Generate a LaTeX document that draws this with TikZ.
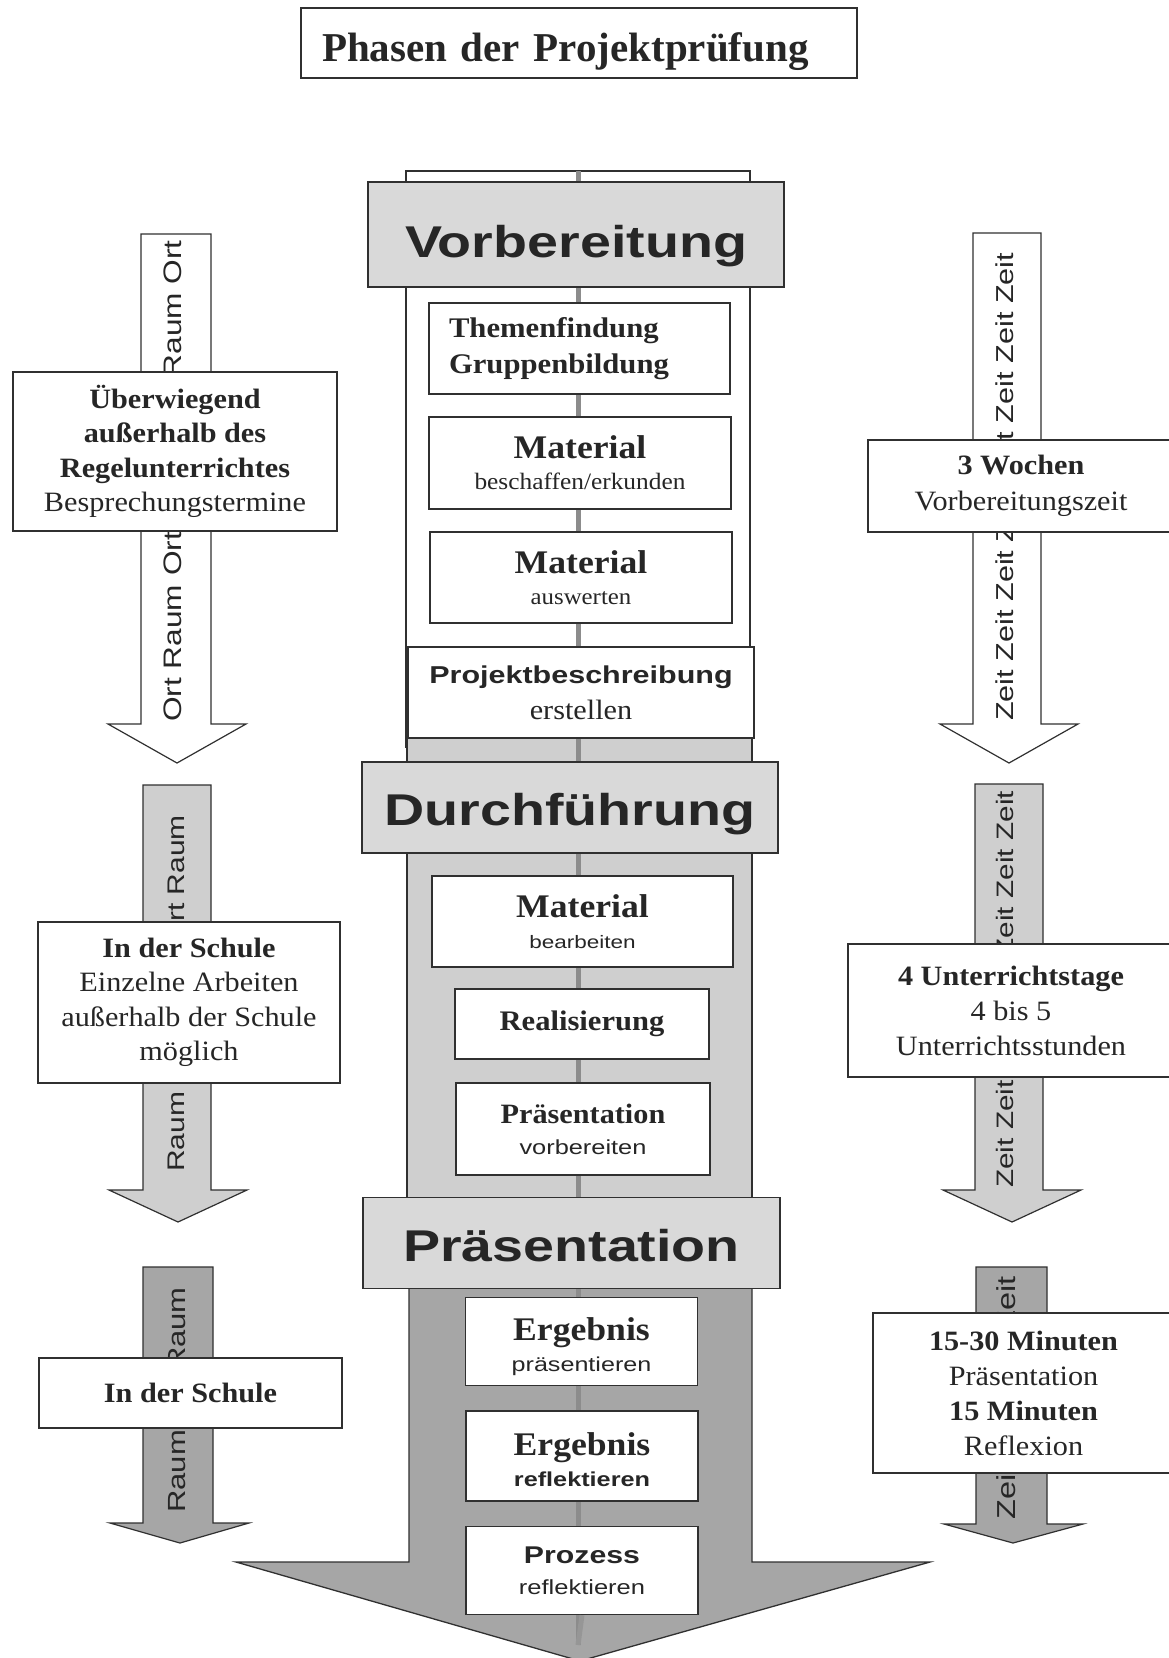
\documentclass[tikz,border=0pt]{standalone}
\usepackage{fontspec}
\newfontfamily\serifx{Liberation Serif}[FakeStretch=1.08]
\newfontfamily\serifn{Liberation Serif}
\newfontfamily\sansx{Liberation Sans}[FakeStretch=1.25]
\newcommand\fSB[2]{\serifx\bfseries\fontsize{#1}{#2}\selectfont}
\newcommand\fSR[2]{\serifx\mdseries\fontsize{#1}{#2}\selectfont}
\newcommand\fAB[2]{\sansx\bfseries\fontsize{#1}{#2}\selectfont}
\newcommand\fAR[2]{\sansx\mdseries\fontsize{#1}{#2}\selectfont}
\newcommand\fLS[1]{\fontsize{10}{#1}\selectfont}
\definecolor{txt}{HTML}{262626}
\definecolor{linec}{HTML}{303030}
\definecolor{phasefill}{HTML}{D9D9D9}
\definecolor{midfill}{HTML}{CFCFCF}
\definecolor{darkfill}{HTML}{A6A6A6}
\definecolor{spine}{HTML}{8C8C8C}
\begin{document}
\begin{tikzpicture}[x=1pt,y=-1pt,
  wbox/.style={draw=linec, line width=1.3pt, fill=white, inner sep=0pt, align=center, text=txt},
  phasebox/.style={draw=linec, line width=1.3pt, fill=phasefill, inner sep=0pt, text=txt, font=\fAB{44.5}{50}, text depth=0pt},
  rottext/.style={rotate=90, anchor=base west, inner sep=0pt, text=txt},
  arrowline/.style={draw=linec, line width=1.2pt},
  spineline/.style={draw=spine, line width=5pt},
  colline/.style={draw=linec, line width=1.3pt}
]
\useasboundingbox (0,0) rectangle (1168,1658);
\fill[white] (0,0) rectangle (1168,1658);

% title
\node[wbox, line width=1.5pt, minimum width=556pt, minimum height=70pt, text width=514pt, inner xsep=21pt, align=left, text height=36pt, text depth=0pt, font=\serifn\bfseries\fontsize{41}{44}\selectfont] (title) at (579,43) {Phasen der Projektprüfung};

% ---------- left arrows ----------
\draw[arrowline, fill=white] (141,234) -- (211,234) -- (211,724) -- (246,724) -- (177,763) -- (108,724) -- (141,724) -- cycle;
\begin{scope}\clip (141,234) rectangle (211,724);
\node[rottext, font=\fAR{25.3}{26}] (l1txt) at (181,722) {Ort Raum Ort Raum Ort Raum Ort};
\end{scope}
\node[wbox, minimum width=324pt, minimum height=159pt, font=\fSR{28}{34.5}] (l1box) at (175,451.5)
  {\bfseries Überwiegend\\\bfseries außerhalb des\\\bfseries Regelunterrichtes\\Besprechungstermine};

\draw[arrowline, fill=midfill] (143,785) -- (211,785) -- (211,1190) -- (247,1190) -- (178,1222) -- (109,1190) -- (143,1190) -- cycle;
\begin{scope}\clip (143,785) rectangle (211,1190);
\node[rottext, font=\fAR{24}{25}] (l2txt) at (184,1172) {Raum Ort Raum Ort Raum};
\end{scope}
\node[wbox, minimum width=302pt, minimum height=161pt, font=\fSR{28}{34.5}] (l2box) at (189,1002.5)
  {\bfseries In der Schule\\Einzelne Arbeiten\\außerhalb der Schule\\möglich};

\draw[arrowline, fill=darkfill] (143,1267) -- (213,1267) -- (213,1523) -- (249,1523) -- (180,1543) -- (110,1523) -- (143,1523) -- cycle;
\begin{scope}\clip (143,1267) rectangle (213,1523);
\node[rottext, font=\fAR{24.8}{25}] (l3txt) at (185,1513) {Raum Ort Raum};
\end{scope}
\node[wbox, minimum width=303pt, minimum height=70pt, font=\fSR{28}{34.5}] (l3box) at (190.5,1393)
  {\bfseries In der Schule};

% ---------- right arrows ----------
\draw[arrowline, fill=white] (973,233) -- (1041,233) -- (1041,724) -- (1078,724) -- (1009,763) -- (940,724) -- (973,724) -- cycle;
\begin{scope}\clip (973,233) rectangle (1041,724);
\node[rottext, font=\fAR{24.5}{25}] (r1txt) at (1013,721) {Zeit Zeit Zeit Zeit Zeit Zeit Zeit Zeit};
\end{scope}
\node[wbox, minimum width=306pt, minimum height=92pt, font=\fSR{28}{36.5}] (r1box) at (1021,486)
  {\bfseries 3 Wochen\\Vorbereitungszeit};

\draw[arrowline, fill=midfill] (975,784) -- (1043,784) -- (1043,1190) -- (1081,1190) -- (1012,1222) -- (943,1190) -- (975,1190) -- cycle;
\begin{scope}\clip (975,784) rectangle (1043,1190);
\node[rottext, font=\fAR{23.8}{25}] (r2txt) at (1013,1188) {Zeit Zeit Zeit Zeit Zeit Zeit Zeit};
\end{scope}
\node[wbox, minimum width=326pt, minimum height=133pt, font=\fSR{28}{35}] (r2box) at (1011,1010.5)
  {\bfseries 4 Unterrichtstage\\4 bis 5\\Unterrichtsstunden};

\draw[arrowline, fill=darkfill] (976,1267) -- (1047,1267) -- (1047,1524) -- (1083,1524) -- (1013,1543) -- (944,1524) -- (976,1524) -- cycle;
\begin{scope}\clip (976,1267) rectangle (1047,1524);
\node[rottext, font=\fAR{26}{26}] (r3txt) at (1015,1520) {Zeit Zeit Zeit Zeit};
\end{scope}
\node[wbox, minimum width=301pt, minimum height=160pt, font=\fSR{28}{35}] (r3box) at (1023.5,1393)
  {\bfseries 15-30 Minuten\\Präsentation\\\bfseries 15 Minuten\\Reflexion};

% ---------- central column ----------
\draw[colline, fill=white] (406,171) rectangle (750,747);
\draw[colline, fill=midfill] (407,738) rectangle (752,1198);
\draw[colline, fill=darkfill] (409,1287) -- (409,1562) -- (236,1562) -- (580,1661) -- (930,1562) -- (752,1562) -- (752,1287);
\coordinate (spinetop) at (578,171);
\coordinate (spinebot) at (578,1645);
\draw[spineline] (spinetop) -- (spinebot);

\node[phasebox, minimum width=416pt, minimum height=105pt, text height=46pt] (vorb) at (576,234.5) {Vorbereitung};
\node[wbox, minimum width=301pt, minimum height=91pt, text width=261pt, inner xsep=20pt, align=left, font=\fSB{28.4}{36}] (themen) at (579.5,348.5) {Themenfindung\\Gruppenbildung};
\node[wbox, minimum width=302pt, minimum height=92pt, font=\fLS{31}] (mat1) at (580,463)
  {\fSB{33}{33}Material\\\fSR{23.5}{24}beschaffen/erkunden};
\node[wbox, minimum width=302pt, minimum height=91pt, font=\fLS{31}] (mat2) at (581,577.5)
  {\fSB{33}{33}Material\\\fSR{23}{24}auswerten};
\node[wbox, minimum width=346pt, minimum height=91pt, font=\fLS{36}] (projekt) at (581,692.5)
  {\fAB{24.4}{25}Projektbeschreibung\\\fSR{28}{28}erstellen};

\node[phasebox, minimum width=416pt, minimum height=91pt, text height=35pt] (durch) at (570,807.5) {Durchführung};
\node[wbox, minimum width=301pt, minimum height=91pt, font=\fLS{31}] (mat3) at (582.5,921.5)
  {\fSB{33}{33}Material\\\fAR{18}{18}bearbeiten};
\node[wbox, minimum width=254pt, minimum height=70pt, font=\fSB{28.3}{30}] (real) at (582,1024) {Realisierung};
\node[wbox, minimum width=254pt, minimum height=92pt, font=\fLS{31}] (praesv) at (583,1129)
  {\fSB{28}{28}Präsentation\\\fAR{20.3}{21}vorbereiten};

\node[phasebox, minimum width=417pt, minimum height=91pt, text height=36pt] (praes) at (571.5,1243) {Präsentation};
\node[wbox, minimum width=232pt, minimum height=88pt, font=\fLS{31}] (erg1) at (581.5,1341.5)
  {\fSB{33}{33}\rule{0pt}{33pt}Ergebnis\\\fAR{20.1}{21}präsentieren};
\node[wbox, minimum width=232pt, minimum height=90pt, font=\fLS{31}] (erg2) at (582,1456)
  {\fSB{33}{33}\rule{0pt}{31pt}Ergebnis\\\fAB{20.2}{21}reflektieren};
\node[wbox, minimum width=232pt, minimum height=88pt, font=\fLS{31}] (proz) at (582,1570.5)
  {\fAB{24.2}{25}Prozess\\\fAR{20.4}{21}reflektieren};

\draw[spineline, draw=spine!60!darkfill] (proz.south) -- (spinebot);
\end{tikzpicture}
\end{document}
